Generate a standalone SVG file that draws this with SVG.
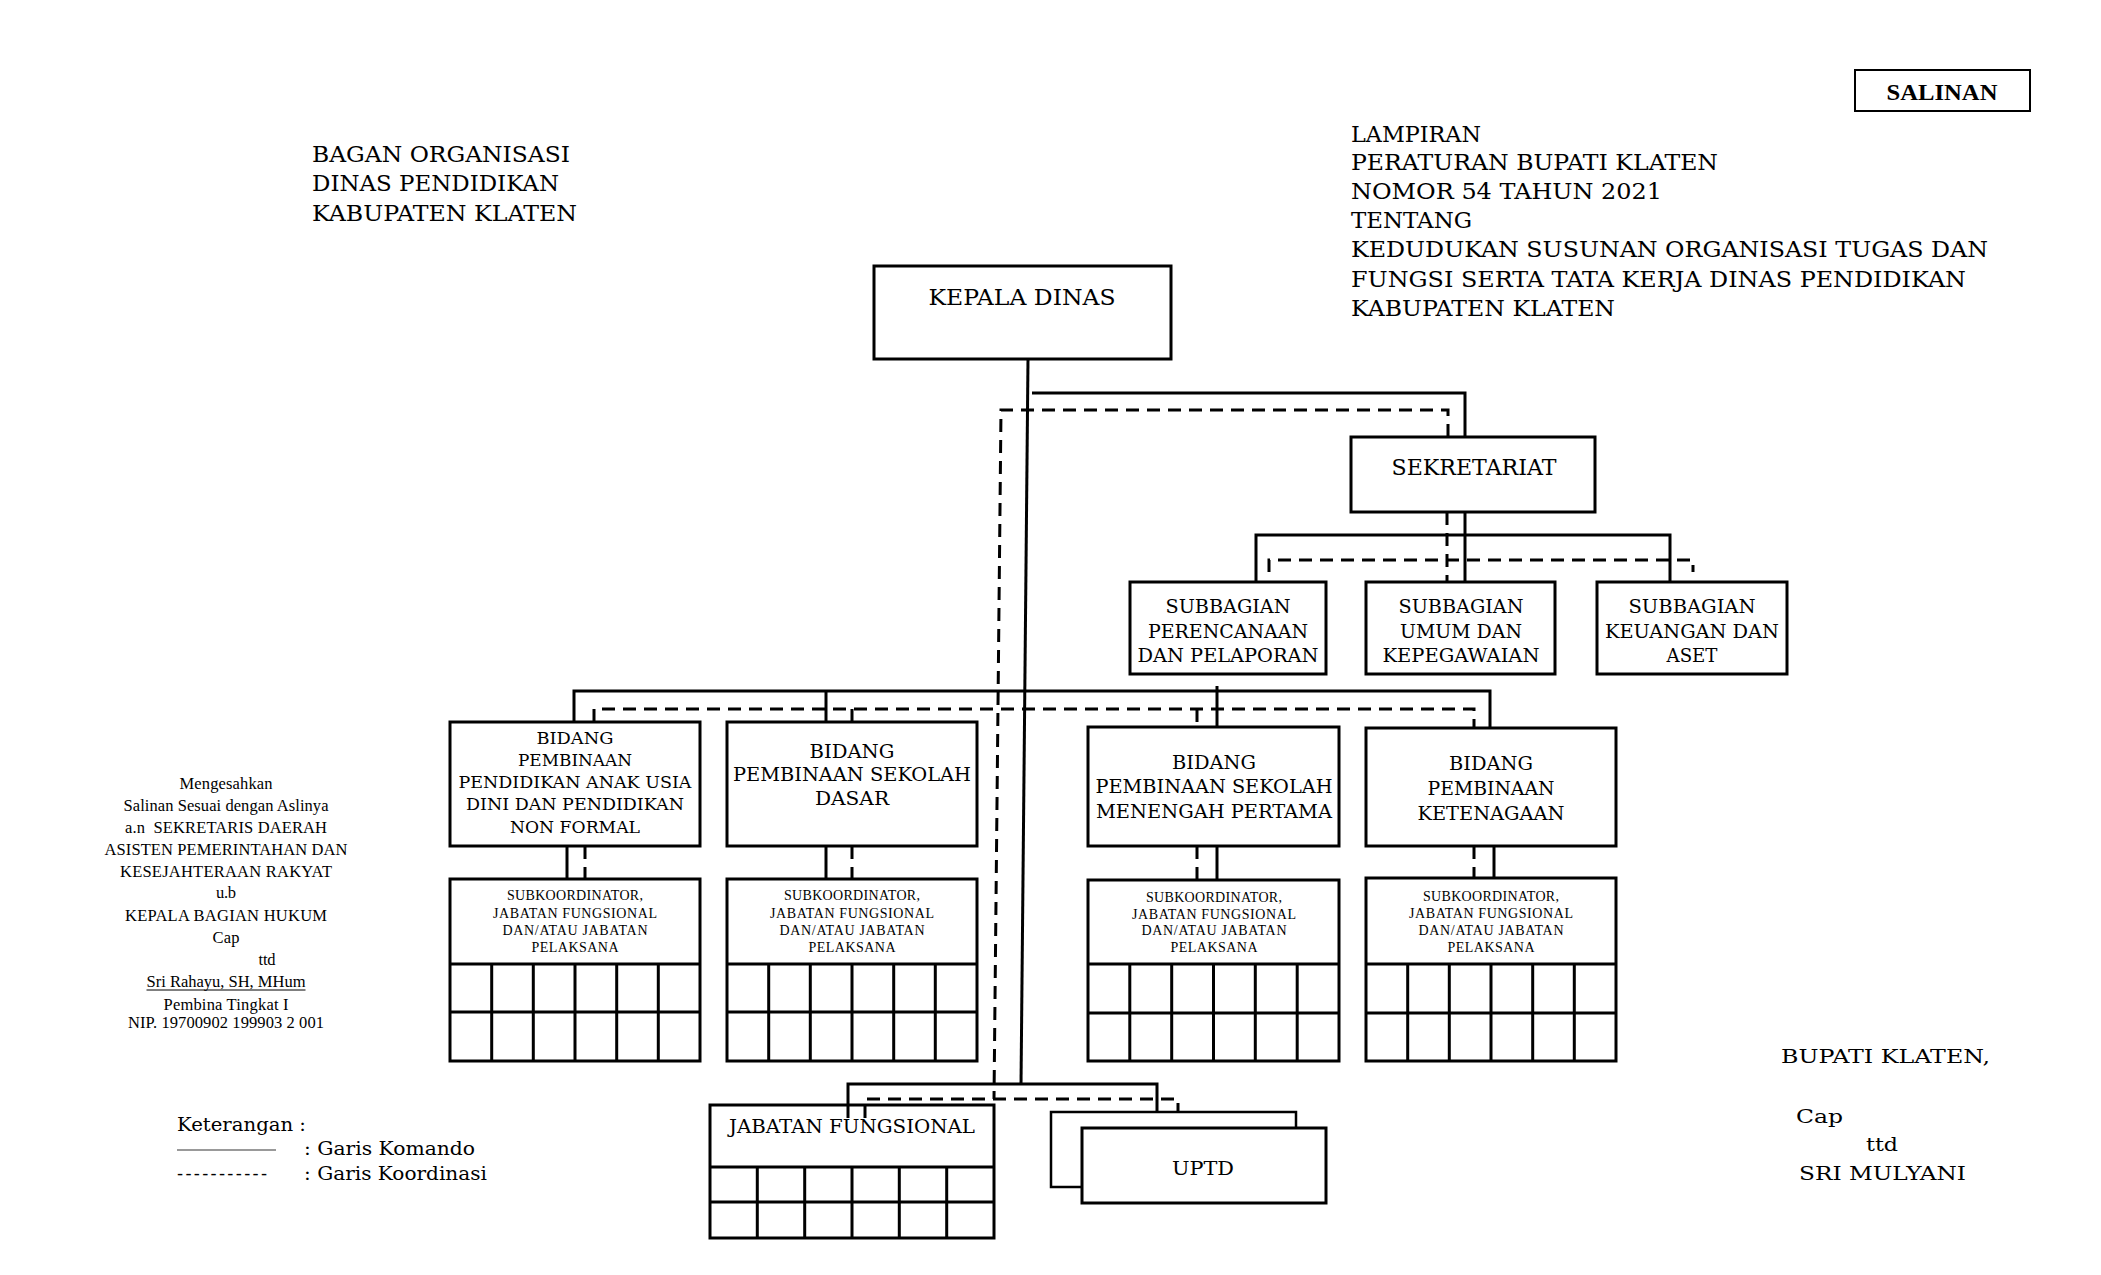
<svg xmlns="http://www.w3.org/2000/svg" width="2101" height="1275" viewBox="0 0 2101 1275">
<style>
.bg{fill:#fff}
.box{fill:#fff;stroke:#000;stroke-width:3}
.ln{fill:none;stroke:#000;stroke-width:3}
.dl{fill:none;stroke:#000;stroke-width:3;stroke-dasharray:13 8}
.t{font-family:"DejaVu Serif",serif;fill:#000}
.s{font-family:"Liberation Serif",serif;fill:#000}
.m{text-anchor:middle}
.h1{font-size:23px}
.h2{font-size:21.5px}
.h3{font-size:18.5px}
.h4{font-size:17px}
.sub{font-size:14px}
.sig{font-size:16.5px}
</style>
<rect class="bg" x="0" y="0" width="2101" height="1275"/>

<!-- Header texts -->
<g id="title-left" class="t h1">
<text x="312" y="162" textLength="258" lengthAdjust="spacingAndGlyphs">BAGAN ORGANISASI</text>
<text x="312" y="191" textLength="247" lengthAdjust="spacingAndGlyphs">DINAS PENDIDIKAN</text>
<text x="312" y="221" textLength="265" lengthAdjust="spacingAndGlyphs">KABUPATEN KLATEN</text>
</g>
<g id="salinan">
<rect x="1855" y="70" width="175" height="41" fill="#fff" stroke="#000" stroke-width="2"/>
<text class="s m" x="1942" y="100" font-size="23" font-weight="bold" textLength="111" lengthAdjust="spacingAndGlyphs">SALINAN</text>
</g>
<g id="title-right" class="t h1" style="white-space:pre">
<text x="1351" y="142" textLength="130" lengthAdjust="spacingAndGlyphs">LAMPIRAN</text>
<text x="1351" y="170" textLength="367" lengthAdjust="spacingAndGlyphs">PERATURAN BUPATI KLATEN</text>
<text x="1351" y="199" textLength="311" lengthAdjust="spacingAndGlyphs">NOMOR  54 TAHUN 2021</text>
<text x="1351" y="228" textLength="121" lengthAdjust="spacingAndGlyphs">TENTANG</text>
<text x="1351" y="257" textLength="637" lengthAdjust="spacingAndGlyphs">KEDUDUKAN SUSUNAN ORGANISASI TUGAS  DAN</text>
<text x="1351" y="287" textLength="615" lengthAdjust="spacingAndGlyphs">FUNGSI SERTA TATA KERJA DINAS PENDIDIKAN</text>
<text x="1351" y="316" textLength="264" lengthAdjust="spacingAndGlyphs">KABUPATEN KLATEN</text>
</g>

<!-- Connectors -->
<g id="connectors">
<!-- command lines -->
<line class="ln" x1="1028" y1="359" x2="1021" y2="1085"/>
<polyline class="ln" points="1032,393 1465,393 1465,437"/>
<line class="ln" x1="1465" y1="512" x2="1465" y2="582"/>
<polyline class="ln" points="1256,582 1256,535 1670,535 1670,582"/>
<polyline class="ln" points="574,722 574,691 1490,691 1490,728"/>
<line class="ln" x1="826" y1="691" x2="826" y2="722"/>
<line class="ln" x1="1217" y1="686" x2="1217" y2="727"/>
<line class="ln" x1="567" y1="846" x2="567" y2="879"/>
<line class="ln" x1="826" y1="846" x2="826" y2="879"/>
<line class="ln" x1="1217" y1="846" x2="1217" y2="880"/>
<line class="ln" x1="1494" y1="846" x2="1494" y2="878"/>
<polyline class="ln" points="848,1118 848,1084 1157,1084 1157,1115"/>
<!-- coordination lines -->
<polyline class="dl" points="1448,437 1448,410 1001,410 994,1099"/>
<line class="dl" x1="1447" y1="512" x2="1447" y2="582"/>
<polyline class="dl" points="1269,572 1269,560 1693,560 1693,572"/>
<polyline class="dl" points="594,722 594,709 1474,709 1474,728"/>
<line class="dl" x1="852" y1="709" x2="852" y2="722"/>
<line class="dl" x1="1197" y1="709" x2="1197" y2="727"/>
<line class="dl" x1="585" y1="846" x2="585" y2="879"/>
<line class="dl" x1="852" y1="846" x2="852" y2="879"/>
<line class="dl" x1="1197" y1="846" x2="1197" y2="880"/>
<line class="dl" x1="1474" y1="846" x2="1474" y2="878"/>
<polyline class="dl" points="865,1118 865,1099 1178,1099 1178,1112"/>
</g>

<!-- Nodes -->
<g id="kepala-dinas">
<rect class="box" x="874" y="266" width="297" height="93"/>
<text class="t m h2" x="1022" y="305" textLength="187" lengthAdjust="spacingAndGlyphs">KEPALA DINAS</text>
</g>
<g id="sekretariat">
<rect class="box" x="1351" y="437" width="244" height="75"/>
<text class="t m h2" x="1474" y="475" textLength="165" lengthAdjust="spacingAndGlyphs">SEKRETARIAT</text>
</g>
<g id="subbag-perencanaan" class="t m h3">
<rect class="box" x="1130" y="582" width="196" height="92"/>
<text x="1228" y="613" textLength="125" lengthAdjust="spacingAndGlyphs">SUBBAGIAN</text>
<text x="1228" y="638" textLength="160" lengthAdjust="spacingAndGlyphs">PERENCANAAN</text>
<text x="1228" y="662" textLength="181" lengthAdjust="spacingAndGlyphs">DAN PELAPORAN</text>
</g>
<g id="subbag-umum" class="t m h3">
<rect class="box" x="1366" y="582" width="189" height="92"/>
<text x="1461" y="613" textLength="125" lengthAdjust="spacingAndGlyphs">SUBBAGIAN</text>
<text x="1461" y="638" textLength="122" lengthAdjust="spacingAndGlyphs">UMUM DAN</text>
<text x="1461" y="662" textLength="157" lengthAdjust="spacingAndGlyphs">KEPEGAWAIAN</text>
</g>
<g id="subbag-keuangan" class="t m h3">
<rect class="box" x="1597" y="582" width="190" height="92"/>
<text x="1692" y="613" textLength="127" lengthAdjust="spacingAndGlyphs">SUBBAGIAN</text>
<text x="1692" y="638" textLength="174" lengthAdjust="spacingAndGlyphs">KEUANGAN DAN</text>
<text x="1692" y="662" textLength="51" lengthAdjust="spacingAndGlyphs">ASET</text>
</g>

<g id="bidang-paud" class="t m h4">
<rect class="box" x="450" y="722" width="250" height="124"/>
<text x="575" y="744" textLength="77" lengthAdjust="spacingAndGlyphs">BIDANG</text>
<text x="575" y="766" textLength="114" lengthAdjust="spacingAndGlyphs">PEMBINAAN</text>
<text x="575" y="788" textLength="233" lengthAdjust="spacingAndGlyphs">PENDIDIKAN ANAK USIA</text>
<text x="575" y="810" textLength="218" lengthAdjust="spacingAndGlyphs">DINI DAN PENDIDIKAN</text>
<text x="575" y="833" textLength="130" lengthAdjust="spacingAndGlyphs">NON FORMAL</text>
</g>
<g id="bidang-sd" class="t m h3">
<rect class="box" x="727" y="722" width="250" height="124"/>
<text x="852" y="758" textLength="85" lengthAdjust="spacingAndGlyphs">BIDANG</text>
<text x="852" y="781" textLength="238" lengthAdjust="spacingAndGlyphs">PEMBINAAN SEKOLAH</text>
<text x="852" y="805" textLength="74" lengthAdjust="spacingAndGlyphs">DASAR</text>
</g>
<g id="bidang-smp" class="t m h3">
<rect class="box" x="1088" y="727" width="251" height="119"/>
<text x="1214" y="769" textLength="84" lengthAdjust="spacingAndGlyphs">BIDANG</text>
<text x="1214" y="793" textLength="237" lengthAdjust="spacingAndGlyphs">PEMBINAAN SEKOLAH</text>
<text x="1214" y="818" textLength="236" lengthAdjust="spacingAndGlyphs">MENENGAH PERTAMA</text>
</g>
<g id="bidang-ketenagaan" class="t m h3">
<rect class="box" x="1366" y="728" width="250" height="118"/>
<text x="1491" y="770" textLength="84" lengthAdjust="spacingAndGlyphs">BIDANG</text>
<text x="1491" y="795" textLength="127" lengthAdjust="spacingAndGlyphs">PEMBINAAN</text>
<text x="1491" y="820" textLength="147" lengthAdjust="spacingAndGlyphs">KETENAGAAN</text>
</g>

<g id="sub-paud">
<rect class="box" x="450" y="879" width="250" height="182"/>
<path class="ln" d="M450 964H700M450 1012H700M491.7 964V1061M533.3 964V1061M575 964V1061M616.7 964V1061M658.3 964V1061"/>
<g class="s m sub">
<text x="575" y="900" textLength="136">SUBKOORDINATOR,</text>
<text x="575" y="917.5" textLength="164">JABATAN FUNGSIONAL</text>
<text x="575" y="935" textLength="145">DAN/ATAU JABATAN</text>
<text x="575" y="952" textLength="87">PELAKSANA</text>
</g>
</g>
<g id="sub-sd">
<rect class="box" x="727" y="879" width="250" height="182"/>
<path class="ln" d="M727 964H977M727 1012H977M768.7 964V1061M810.3 964V1061M852 964V1061M893.7 964V1061M935.3 964V1061"/>
<g class="s m sub">
<text x="852" y="900" textLength="136">SUBKOORDINATOR,</text>
<text x="852" y="917.5" textLength="164">JABATAN FUNGSIONAL</text>
<text x="852" y="935" textLength="145">DAN/ATAU JABATAN</text>
<text x="852" y="952" textLength="87">PELAKSANA</text>
</g>
</g>
<g id="sub-smp">
<rect class="box" x="1088" y="880" width="251" height="181"/>
<path class="ln" d="M1088 964H1339M1088 1013H1339M1129.8 964V1061M1171.7 964V1061M1213.5 964V1061M1255.3 964V1061M1297.2 964V1061"/>
<g class="s m sub">
<text x="1214" y="902" textLength="136">SUBKOORDINATOR,</text>
<text x="1214" y="918.5" textLength="164">JABATAN FUNGSIONAL</text>
<text x="1214" y="935" textLength="145">DAN/ATAU JABATAN</text>
<text x="1214" y="952" textLength="87">PELAKSANA</text>
</g>
</g>
<g id="sub-ketenagaan">
<rect class="box" x="1366" y="878" width="250" height="183"/>
<path class="ln" d="M1366 964H1616M1366 1013H1616M1407.7 964V1061M1449.3 964V1061M1491 964V1061M1532.7 964V1061M1574.3 964V1061"/>
<g class="s m sub">
<text x="1491" y="901" textLength="136">SUBKOORDINATOR,</text>
<text x="1491" y="918" textLength="164">JABATAN FUNGSIONAL</text>
<text x="1491" y="935" textLength="145">DAN/ATAU JABATAN</text>
<text x="1491" y="952" textLength="87">PELAKSANA</text>
</g>
</g>

<g id="jabatan-fungsional">
<rect class="box" x="710" y="1105" width="284" height="133"/>
<path class="ln" d="M710 1167H994M710 1202H994M757.3 1167V1238M804.7 1167V1238M852 1167V1238M899.3 1167V1238M946.7 1167V1238"/>
<line class="ln" x1="848" y1="1105" x2="848" y2="1118"/>
<line class="dl" x1="865" y1="1105" x2="865" y2="1118"/>
<text class="t m" x="852" y="1133" font-size="18" textLength="246" lengthAdjust="spacingAndGlyphs">JABATAN FUNGSIONAL</text>
</g>
<g id="uptd">
<rect x="1051" y="1112" width="245" height="75" fill="#fff" stroke="#000" stroke-width="2.5"/>
<rect class="box" x="1082" y="1128" width="244" height="75"/>
<text class="t m" x="1203" y="1175" font-size="19" textLength="62" lengthAdjust="spacingAndGlyphs">UPTD</text>
</g>

<!-- Signature left -->
<g id="pengesahan" class="s m sig">
<text x="226" y="789" textLength="93">Mengesahkan</text>
<text x="226" y="811" textLength="205">Salinan Sesuai dengan Aslinya</text>
<text x="226" y="833" textLength="202" style="white-space:pre">a.n  SEKRETARIS DAERAH</text>
<text x="226" y="855" textLength="243">ASISTEN PEMERINTAHAN DAN</text>
<text x="226" y="877" textLength="212">KESEJAHTERAAN RAKYAT</text>
<text x="226" y="898" textLength="20">u.b</text>
<text x="226" y="921" textLength="202">KEPALA BAGIAN HUKUM</text>
<text x="226" y="943" textLength="27">Cap</text>
<text x="267" y="965" textLength="17">ttd</text>
<text x="226" y="987" textLength="159">Sri Rahayu, SH, MHum</text>
<text x="226" y="1010" textLength="125">Pembina Tingkat I</text>
<text x="226" y="1028" textLength="196">NIP. 19700902 199903 2 001</text>
<line x1="146.5" y1="990" x2="305.5" y2="990" stroke="#000" stroke-width="1"/>
</g>

<!-- Legend -->
<g id="keterangan" class="t" font-size="18">
<text x="177" y="1131" textLength="129" lengthAdjust="spacingAndGlyphs">Keterangan :</text>
<line x1="177" y1="1150" x2="276" y2="1150" stroke="#777" stroke-width="1.5"/>
<text x="304" y="1155" textLength="171" lengthAdjust="spacingAndGlyphs">: Garis Komando</text>
<text x="177" y="1180" textLength="90">-----------</text>
<text x="304" y="1180" textLength="183" lengthAdjust="spacingAndGlyphs">: Garis Koordinasi</text>
</g>

<!-- Signature right -->
<g id="bupati" class="t" font-size="19">
<text x="1781" y="1063" textLength="209" lengthAdjust="spacingAndGlyphs">BUPATI KLATEN,</text>
<text x="1796" y="1123" textLength="47" lengthAdjust="spacingAndGlyphs">Cap</text>
<text x="1866" y="1151" textLength="32" lengthAdjust="spacingAndGlyphs">ttd</text>
<text x="1799" y="1180" textLength="167" lengthAdjust="spacingAndGlyphs">SRI MULYANI</text>
</g>
</svg>
